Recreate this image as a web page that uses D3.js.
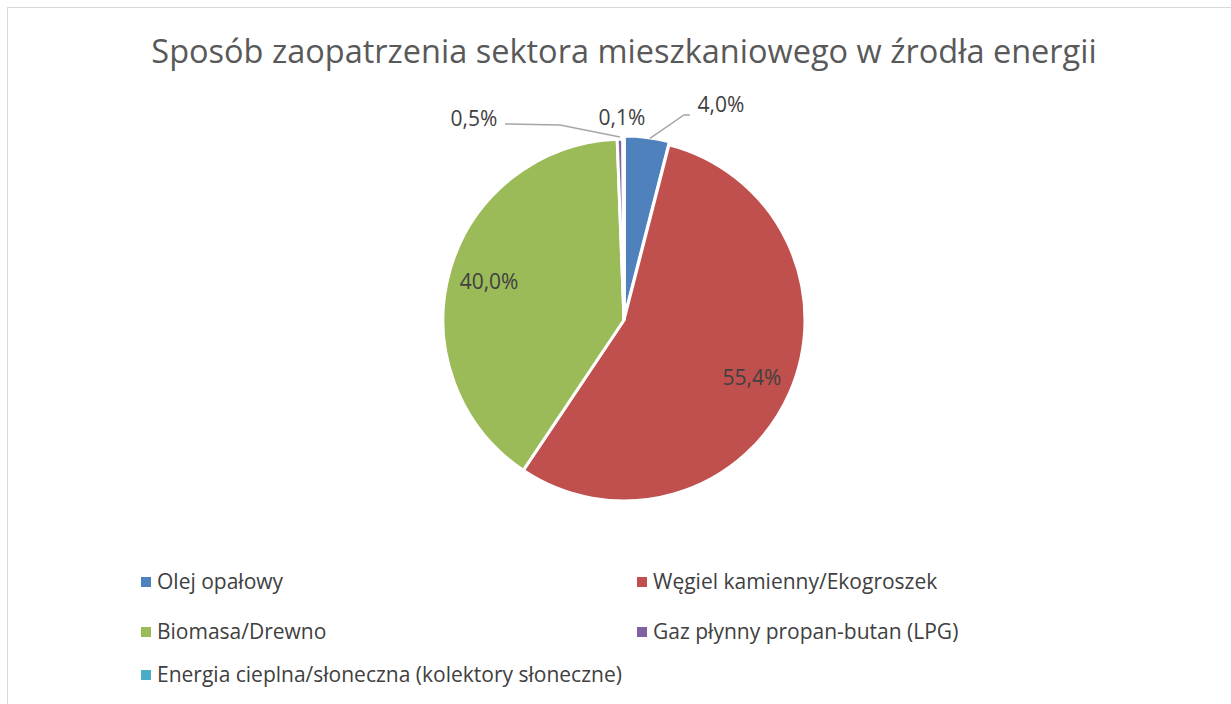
<!DOCTYPE html>
<html>
<head>
<meta charset="utf-8">
<script src="https://cdn.jsdelivr.net/npm/d3@7"></script>
<style>
  body { margin: 0; background: #fff; }
  text { font-family: "Open Sans", "Noto Sans", sans-serif; }
</style>
</head>
<body>
<svg id="chart" width="1231" height="704"></svg>
<script>
// dane z wykresu
var kategorie = ["Olej opałowy", "Węgiel kamienny/Ekogroszek", "Biomasa/Drewno",
                 "Gaz płynny propan-butan (LPG)", "Energia cieplna/słoneczna (kolektory słoneczne)"];
var wartosci = [4.0, 55.4, 40.0, 0.5, 0.1];
var etykiety = ["4,0%", "55,4%", "40,0%", "0,5%", "0,1%"];
var kolory = ["#4F81BD", "#C0504D", "#9BBB59", "#8064A2", "#4BACC6"];

var svg = d3.select("#chart");

// ramka
svg.append("rect")
  .attr("x", 7.5).attr("y", 7.5)
  .attr("width", 1300).attr("height", 800)
  .attr("fill", "none").attr("stroke", "#d9d9d9");

// tytul
svg.append("text")
  .attr("x", 624).attr("y", 63)
  .attr("text-anchor", "middle")
  .attr("font-size", 32.5)
  .attr("fill", "#595959")
  .text("Sposób zaopatrzenia sektora mieszkaniowego w źrodła energii");

var cx = 624, cy = 320, r = 181;

var pie = d3.pie().sort(null).value(function(d){ return d; });
var arcs = pie(wartosci);
var arc = d3.arc().innerRadius(0).outerRadius(r);

var g = svg.append("g").attr("transform", "translate(" + cx + "," + cy + ")");

g.selectAll("path")
  .data(arcs)
  .enter().append("path")
  .attr("d", arc)
  .attr("fill", function(d, i){ return kolory[i]; })
  .attr("stroke", "#fff")
  .attr("stroke-width", 3)
  .attr("transform", function(d, i){
    // Olej lekko wysuniety
    if (i == 0) {
      var a = (d.startAngle + d.endAngle) / 2;
      return "translate(" + (Math.sin(a) * 3) + "," + (-Math.cos(a) * 3) + ")";
    }
    return null;
  });

// etykiety wewnatrz
var arcIn = d3.arc().innerRadius(r * 0.775).outerRadius(r * 0.775);
[1, 2].forEach(function(i){
  var c = arcIn.centroid(arcs[i]);
  g.append("text")
    .attr("x", c[0]).attr("y", c[1])
    .attr("text-anchor", "middle")
    .attr("dy", "0.35em")
    .attr("font-size", 21)
    .attr("fill", "#404040")
    .text(etykiety[i]);
});

// etykiety zewnetrzne z liniami
var arcEdge = d3.arc().innerRadius(r + 2).outerRadius(r + 2);
var zewn = [
  { i: 0, tx: 721, ty: 112, linia: [[684, 115], [690, 115]] },
  { i: 3, tx: 474, ty: 126, linia: [[505, 124], [560, 125]] },
  { i: 4, tx: 622, ty: 125, linia: null }
];
zewn.forEach(function(z){
  if (z.linia) {
    var e = arcEdge.centroid(arcs[z.i]);
    var pts = z.linia.concat([[cx + e[0], cy + e[1]]]);
    if (z.i == 0) pts = [[z.linia[1][0], z.linia[1][1]], [z.linia[0][0], z.linia[0][1]], [cx + e[0] + 3, cy + e[1]]];
    svg.append("path")
      .attr("d", d3.line()(pts))
      .attr("fill", "none")
      .attr("stroke", "#a6a6a6")
      .attr("stroke-width", 1.5);
  }
  svg.append("text")
    .attr("x", z.tx).attr("y", z.ty)
    .attr("text-anchor", "middle")
    .attr("font-size", 21)
    .attr("fill", "#404040")
    .text(etykiety[z.i]);
});

// legenda
var legPos = [[141, 582], [637, 582], [141, 632], [637, 632], [141, 675]];
var leg = svg.selectAll(".leg")
  .data(kategorie)
  .enter().append("g")
  .attr("class", "leg")
  .attr("transform", function(d, i){ return "translate(" + legPos[i][0] + "," + legPos[i][1] + ")"; });
leg.append("rect")
  .attr("x", 0).attr("y", -5)
  .attr("width", 10).attr("height", 10)
  .attr("fill", function(d, i){ return kolory[i]; });
leg.append("text")
  .attr("x", 16).attr("dy", "0.35em")
  .attr("font-size", 21)
  .attr("fill", "#404040")
  .text(function(d){ return d; });
</script>
</body>
</html>
